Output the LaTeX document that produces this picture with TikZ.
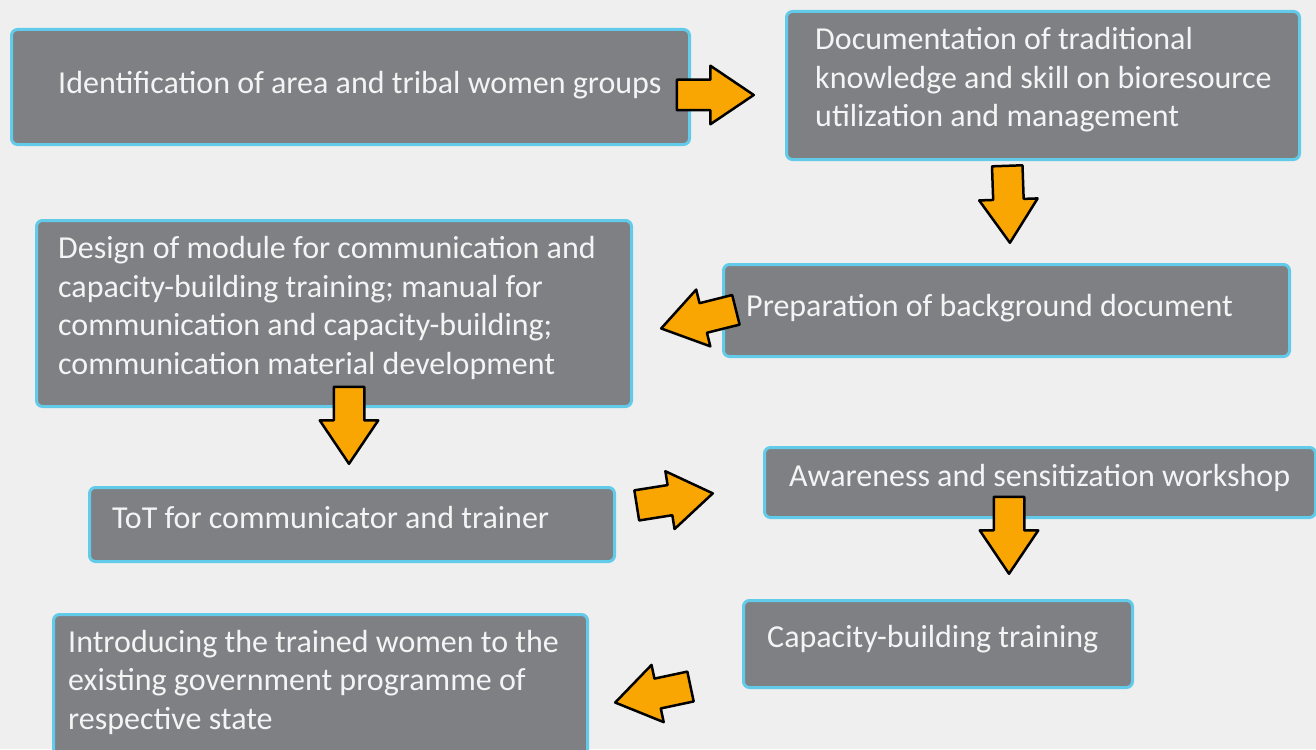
\documentclass[tikz,border=0pt]{standalone}
\usepackage{fontspec}
\setmainfont{Carlito}
\usepackage{xcolor}
\usetikzlibrary{shapes.arrows}

\definecolor{paper}{HTML}{EFEFEF}
\definecolor{boxgray}{HTML}{7E8083}
\definecolor{boxedge}{HTML}{62CBEA}
\definecolor{labelwhite}{HTML}{F4F4F4}
\definecolor{flowamber}{HTML}{F9A602}

\newcommand{\stagefont}{\fontsize{32}{38.5}\selectfont}

\begin{document}
\begin{tikzpicture}[x=1pt, y=-1pt,
  stage/.style={draw=boxedge, fill=boxgray, line width=3pt, rounded corners=6pt,
    anchor=north west, inner sep=0pt},
  stagetext/.style={anchor=west, align=left, text=labelwhite, font=\stagefont, inner sep=0pt},
  flow/.style={single arrow, draw=black, fill=flowamber, line width=2.5pt, line join=round,
    minimum height=77pt, inner xsep=0pt, inner ysep=14pt, single arrow head extend=14pt,
    single arrow tip angle=68, anchor=tip}]
  \fill[paper] (0,0) rectangle (1316,749);
  \useasboundingbox (0,0) rectangle (1316,749);

  % boxes, left column and right column
  \node[stage, minimum width=678, minimum height=115] (ident) at (10,28) {};
  \node[stage, minimum width=513, minimum height=148] (docu) at (785,10) {};
  \node[stage, minimum width=566, minimum height=92] (prep) at (722,263) {};
  \node[stage, minimum width=595, minimum height=186] (design) at (35,219) {};
  \node[stage, minimum width=525, minimum height=74] (tot) at (88,486) {};
  \node[stage, minimum width=551, minimum height=70] (aware) at (763,446) {};
  \node[stage, minimum width=389, minimum height=87] (capac) at (742,599) {};
  \node[stage, minimum width=534, minimum height=152] (intro) at (52,613) {};

  % texts
  \node[stagetext] (ident-t) at (58,85) {Identification of area and tribal women groups};
  \node[stagetext] (docu-t) at (815,80) {Documentation of traditional\\knowledge and skill on bioresource\\utilization and management};
  \node[stagetext] (prep-t) at (746,308) {Preparation of background document};
  \node[stagetext] (design-t) at (58,308) {Design of module for communication and\\capacity-building training; manual for\\communication and capacity-building;\\communication material development};
  \node[stagetext] (tot-t) at (112,518) {ToT for communicator and trainer};
  \node[stagetext] (aware-t) at (789,478) {Awareness and sensitization workshop};
  \node[stagetext] (capac-t) at (767,639) {Capacity-building training};
  \node[stagetext] (intro-t) at (68,682) {Introducing the trained women to the\\existing government programme of\\respective state};

  % block arrows between the steps, placed by their tips
  \node[flow] (ident-docu) at (756,95) {};
  \node[flow, rotate=-88] (docu-prep) at (1010,245) {};
  \node[flow, rotate=194] (prep-design) at (659,329) {};
  \node[flow, rotate=-90] (design-tot) at (349,466) {};
  \node[flow, rotate=9] (tot-aware) at (715,493) {};
  \node[flow, rotate=-90] (aware-capac) at (1009,576) {};
  \node[flow, rotate=192] (capac-intro) at (613,703) {};
\end{tikzpicture}
\end{document}
